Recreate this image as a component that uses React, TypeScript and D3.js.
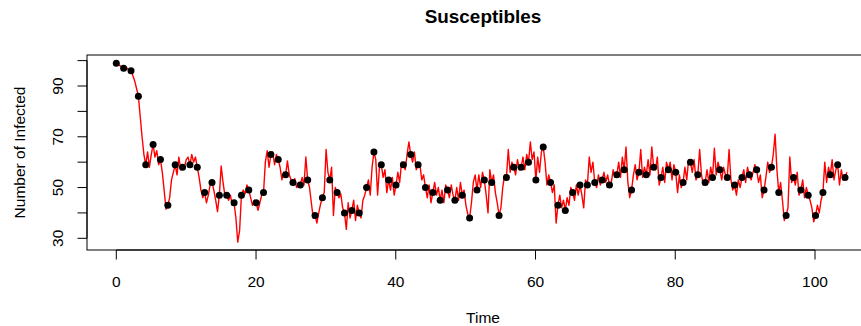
import React from "react";
import * as d3 from "d3";

const TITLE = "Susceptibles";
const X_LABEL = "Time";
const Y_LABEL = "Number of Infected";

const DOT_STEP = 1.0535; // time between observed points
const SUB_STEPS = 4; // line samples per observation interval

const xTicks = [0, 20, 40, 60, 80, 100];
const yTicks = [30, 40, 50, 60, 70, 80, 90, 100];
const yTickLabels = [30, 50, 70, 90];

const dotValues = [
  99, 97, 96, 86, 59, 67, 61, 43, 59, 58,
  59, 58, 48, 52, 47, 47, 44, 47, 49, 44,
  48, 63, 61, 55, 52, 51, 53, 39, 46, 53,
  48, 40, 41, 40, 50, 64, 59, 53, 51, 59,
  63, 59, 50, 48, 45, 49, 45, 47, 38, 49,
  53, 52, 39, 54, 58, 58, 60, 53, 66, 52,
  43, 41, 48, 51, 51, 52, 53, 51, 55, 57,
  49, 56, 55, 58, 54, 57, 56, 52, 60, 55,
  52, 54, 57, 54, 51, 54, 55, 57, 49, 58,
  48, 39, 54, 49, 47, 39, 48, 55, 59, 54,
];

const lineValues = [
  99, 98.5, 98, 97.5, 97, 96.5, 97, 96, 96, 94, 92, 89, 86, 78, 70, 63, 59, 64, 58, 63,
  67, 62, 64.5, 59, 61, 56, 49, 41.5, 43, 46, 53, 56, 59, 55, 62, 57, 58, 58, 61, 62,
  59, 63, 60, 62, 58, 54, 49, 46, 48, 44, 47, 51, 52, 49, 45, 40.5, 47, 58.5, 52, 47,
  47, 45, 47, 43, 44, 38, 28.5, 33, 47, 49, 47.5, 51, 49, 46, 43, 45, 44, 41, 44, 47,
  48, 60, 64.5, 58, 63, 64, 59, 63, 61, 58, 53, 56, 55, 60.5, 55, 53, 52, 53.5, 50, 52,
  51, 54, 51, 62, 53, 50, 44, 38, 39, 36, 40, 43.5, 46, 48, 65, 56, 53, 58, 39, 50,
  48, 46, 47.5, 42, 40, 33.5, 44, 38, 41, 45, 37, 43, 40, 38, 45, 47, 50, 53, 47, 58,
  64, 61, 47, 58, 59, 54, 57, 48, 53, 49, 54, 47, 51, 56, 52, 60, 59, 57, 63, 68,
  63, 60, 64, 57, 59, 59, 53, 55, 50, 46, 51, 44, 48, 52, 47, 50, 45, 49, 44, 51,
  49, 46, 51, 47, 45, 50, 45, 52, 47, 49, 43, 39.5, 38, 44, 52, 55, 49, 55, 50, 56,
  53, 47, 40, 57, 52, 55, 48, 44, 39, 42, 50, 55, 54, 65, 56, 60, 58, 55, 61, 57,
  58, 62, 57, 63, 60, 68, 61, 64, 53, 62, 56, 64, 66, 60, 51, 55, 52, 48, 51, 36,
  43, 47, 42, 45, 41, 46, 43, 50, 48, 45, 51, 47, 51, 47, 42, 53, 51, 62, 56, 60,
  52, 50, 55, 51, 53, 56, 52, 55, 51, 52, 57, 54, 55, 60, 54, 62, 57, 66, 52, 46,
  49, 55, 59, 53, 56, 65, 54, 58, 55, 61, 55, 66, 58, 57, 62, 51, 54, 58, 52, 60,
  57, 60, 53, 59, 56, 48, 55, 50, 52, 58, 53, 61, 60, 56, 61, 53, 55, 65, 55, 51,
  52, 57, 52, 58, 54, 65.5, 55, 60, 57, 53, 58, 55, 54, 65, 53, 49, 51, 47, 53, 50,
  54, 57, 52, 58, 55, 53, 56, 59, 57, 52, 55, 46, 49, 54, 60, 56, 58, 63, 71, 57,
  48, 52, 45, 37, 39, 42, 62, 52, 54, 51, 56, 47, 49, 53, 46, 50, 47, 45, 42, 36.5,
  39, 43, 40, 45, 48, 60, 52, 58, 55, 61, 53, 57, 59, 51, 57, 53, 54, 56,
];

const W = 861;
const H = 326;
const FONT = "'Liberation Sans', Arial, Helvetica, sans-serif";

export default function App() {
  const x = d3.scaleLinear().domain([0, 100]).range([116.3, 815]);
  const y = d3.scaleLinear().domain([30, 90]).range([238.3, 86]);

  const boxLeft = 87;
  const boxRight = 879;
  const boxTop = 55;
  const boxBottom = 250;

  const linePts = lineValues.map((v, i) => [(i * DOT_STEP) / SUB_STEPS, v] as [number, number]);
  const lineGen = d3
    .line<[number, number]>()
    .x((d) => x(d[0]))
    .y((d) => y(d[1]));

  const dots = dotValues.map((v, i) => ({ t: i * DOT_STEP, v }));
  const midX = (boxLeft + boxRight) / 2;
  const midY = (boxTop + boxBottom) / 2;

  return (
    <svg
      width={W}
      height={H}
      style={{ position: "absolute", left: 0, top: 0, background: "#fff" }}
      fontFamily={FONT}
    >
      <rect x={0} y={0} width={W} height={H} fill="#fff" />
      <text x={midX} y={22.5} textAnchor="middle" fontWeight="bold" fontSize={18.9} fill="#000">
        {TITLE}
      </text>

      <path d={lineGen(linePts) || ""} fill="none" stroke="#ff0000" strokeWidth={1.4} strokeLinejoin="round" />
      {dots.map((d, i) => (
        <circle key={i} cx={x(d.t)} cy={y(d.v)} r={3.5} fill="#000" />
      ))}

      <rect
        x={boxLeft}
        y={boxTop}
        width={boxRight - boxLeft}
        height={boxBottom - boxTop}
        fill="none"
        stroke="#000"
        strokeWidth={1}
      />

      {/* x axis */}
      <line x1={x(0)} x2={x(100)} y1={boxBottom} y2={boxBottom} stroke="#000" strokeWidth={1} />
      {xTicks.map((t) => (
        <g key={t}>
          <line x1={x(t)} x2={x(t)} y1={boxBottom} y2={boxBottom + 9.5} stroke="#000" strokeWidth={1} />
          <text x={x(t)} y={287} textAnchor="middle" fontSize={15.5} fill="#000">
            {t}
          </text>
        </g>
      ))}
      <text x={midX} y={323} textAnchor="middle" fontSize={15.5} fill="#000">
        {X_LABEL}
      </text>

      {/* y axis */}
      <line x1={boxLeft} x2={boxLeft} y1={y(30)} y2={y(100)} stroke="#000" strokeWidth={1} />
      {yTicks.map((t) => (
        <line key={t} x1={boxLeft - 9.5} x2={boxLeft} y1={y(t)} y2={y(t)} stroke="#000" strokeWidth={1} />
      ))}
      {yTickLabels.map((t) => (
        <text
          key={t}
          transform={`translate(63.3,${y(t)}) rotate(-90)`}
          textAnchor="middle"
          fontSize={15.5}
          fill="#000"
        >
          {t}
        </text>
      ))}
      <text
        transform={`translate(25,${midY}) rotate(-90)`}
        textAnchor="middle"
        fontSize={15.5}
        fill="#000"
      >
        {Y_LABEL}
      </text>
    </svg>
  );
}
